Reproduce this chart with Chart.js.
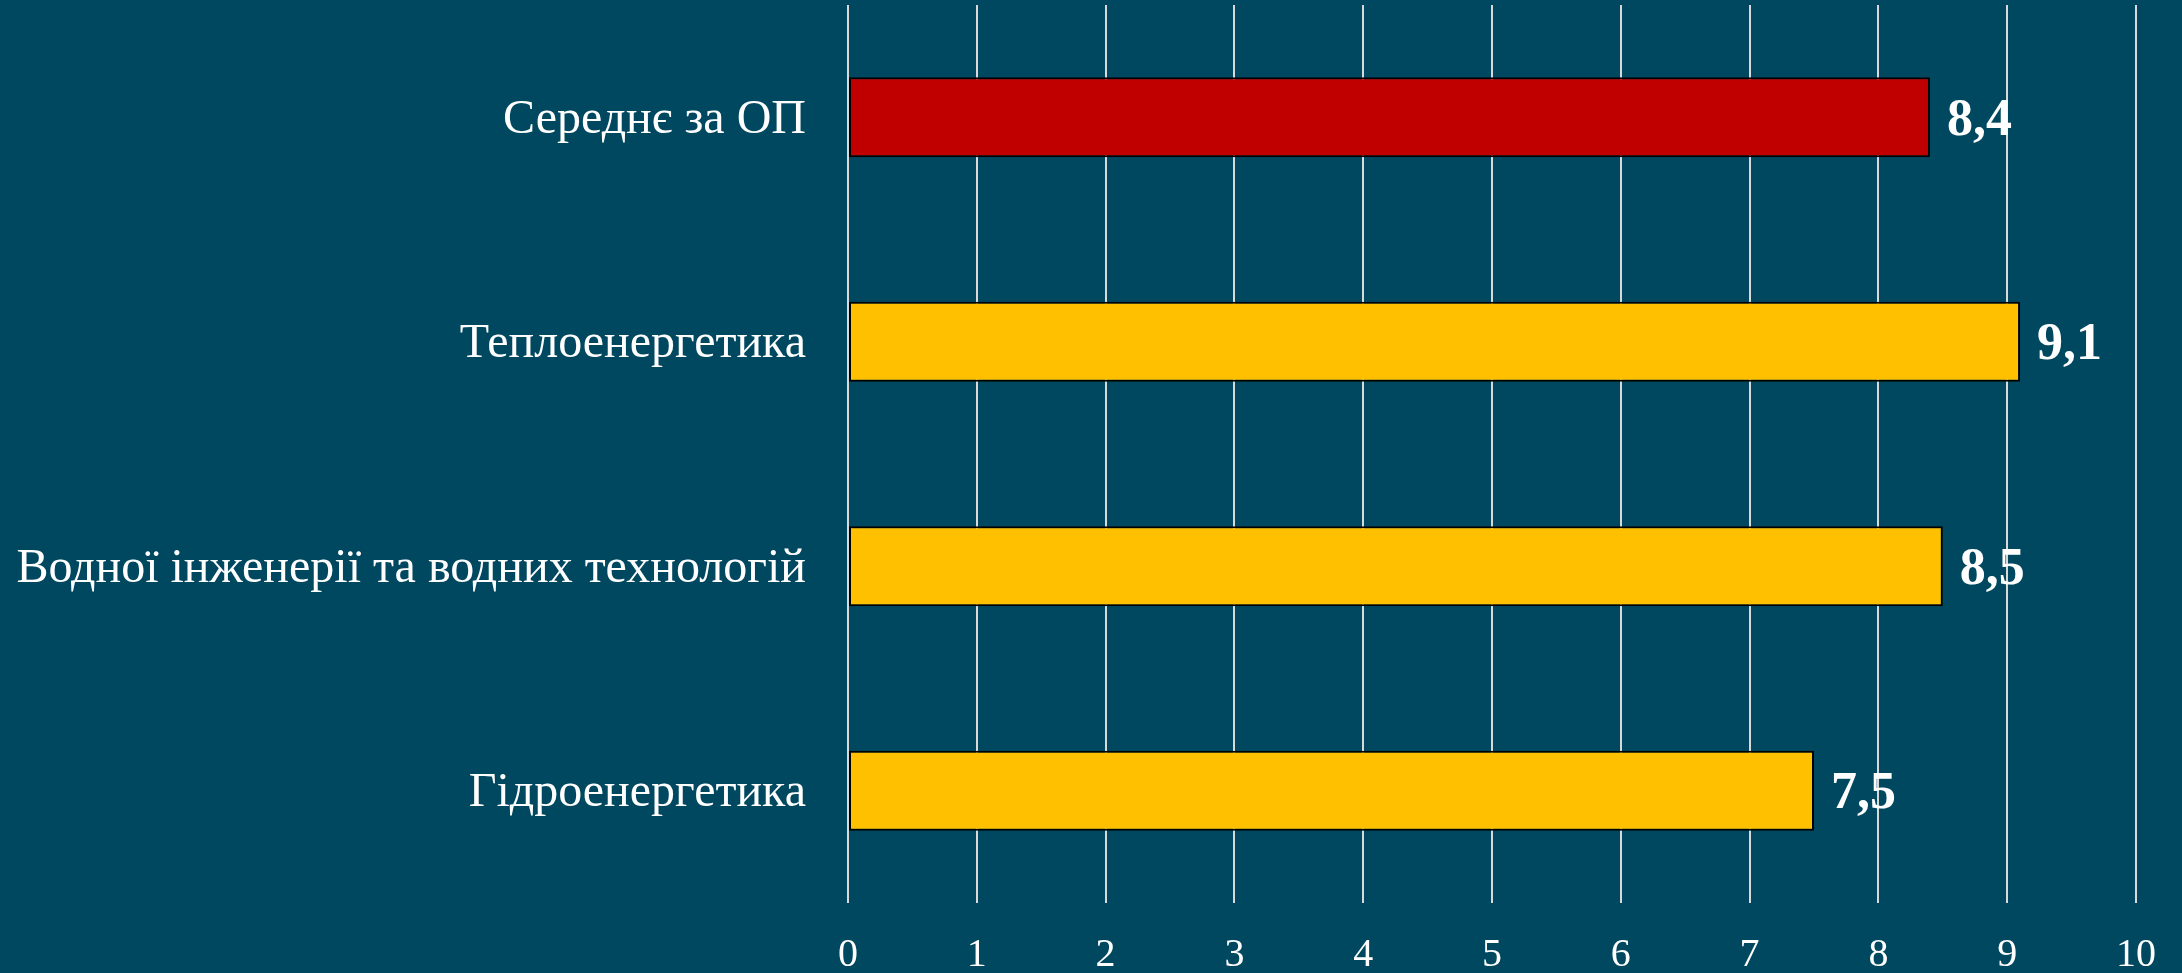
<!DOCTYPE html>
<html>
<head>
<meta charset="utf-8">
<script src="https://cdn.jsdelivr.net/npm/chart.js@4/dist/chart.umd.min.js"></script>
<style>
  html, body { margin: 0; padding: 0; background: #004860; }
  #wrap { width: 2182px; height: 973px; position: relative; }
</style>
</head>
<body>
<div id="wrap"><canvas id="c" width="2182" height="973"></canvas></div>
<script>
const categories = [
  'Середнє за ОП',
  'Теплоенергетика',
  'Водної інженерії та водних технологій',
  'Гідроенергетика'
];
const values = [8.4, 9.1, 8.5, 7.5];
const valueLabels = ['8,4', '9,1', '8,5', '7,5'];
const barColors = ['#C00000', '#FFC000', '#FFC000', '#FFC000'];
const xTicks = [0, 1, 2, 3, 4, 5, 6, 7, 8, 9, 10];

const valueLabelPlugin = {
  id: 'valueLabels',
  afterDatasetsDraw(chart) {
    const ctx = chart.ctx;
    const meta = chart.getDatasetMeta(0);
    ctx.save();
    ctx.fillStyle = '#FFFFFF';
    ctx.font = 'bold 52px "Liberation Serif", "Times New Roman", serif';
    ctx.textAlign = 'left';
    ctx.textBaseline = 'middle';
    meta.data.forEach((bar, i) => {
      ctx.fillText(valueLabels[i], bar.x + 17, bar.y + 4);
    });
    ctx.restore();
  }
};

new Chart(document.getElementById('c'), {
  type: 'bar',
  data: {
    labels: categories,
    datasets: [{
      data: values,
      backgroundColor: barColors,
      borderColor: '#000000',
      borderWidth: 2,
      borderSkipped: false,
      barPercentage: 0.356,
      categoryPercentage: 1.0
    }]
  },
  options: {
    indexAxis: 'y',
    responsive: false,
    animation: false,
    layout: { padding: { top: 5, right: 46, left: 0, bottom: 0 } },
    plugins: {
      legend: { display: false },
      tooltip: { enabled: false }
    },
    scales: {
      x: {
        type: 'linear',
        min: 0,
        max: 10,
        afterBuildTicks(scale) { scale.ticks = xTicks.map(v => ({ value: v })); },
        afterFit(scale) {
          scale.height = 70;
          scale.paddingLeft = 0; scale.paddingRight = 0;
          scale.paddingTop = 0; scale.paddingBottom = 0;
        },
        grid: { display: true, color: '#D9D9D9', lineWidth: 2, drawTicks: false },
        border: { display: false },
        ticks: {
          color: '#FFFFFF',
          padding: 28,
          font: { family: '"Liberation Serif", "Times New Roman", serif', size: 40 }
        }
      },
      y: {
        afterFit(scale) {
          scale.width = 848;
          scale.paddingLeft = 0; scale.paddingRight = 0;
          scale.paddingTop = 0; scale.paddingBottom = 0;
        },
        grid: { display: false, drawTicks: false },
        border: { display: false },
        ticks: {
          color: '#FFFFFF',
          padding: 42,
          labelOffset: 3,
          font: { family: '"Liberation Serif", "Times New Roman", serif', size: 48 }
        }
      }
    }
  },
  plugins: [valueLabelPlugin]
});
</script>
</body>
</html>
